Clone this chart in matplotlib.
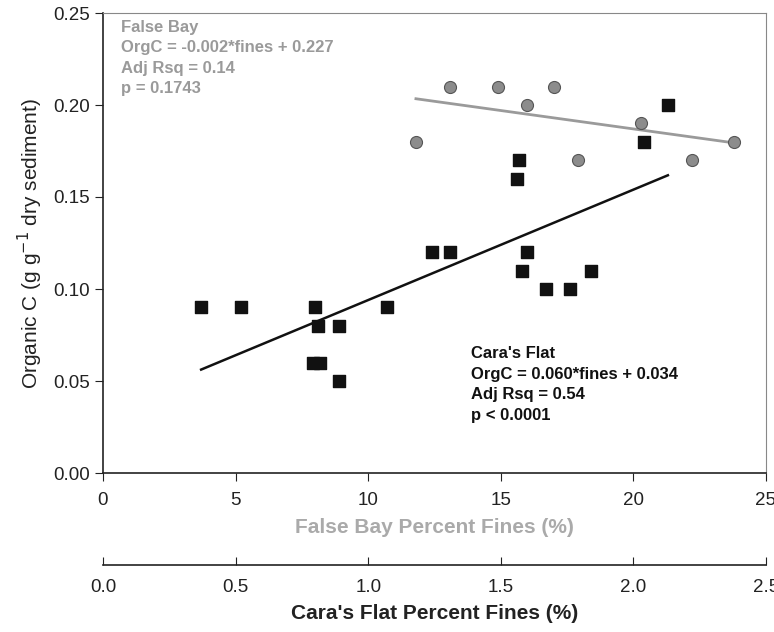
import numpy as np
import matplotlib
matplotlib.use("Agg")
import matplotlib.pyplot as plt
from matplotlib import font_manager

# pick a narrow sans if we have one
names = set(f.name for f in font_manager.fontManager.ttflist)
fam = "Liberation Sans Narrow" if "Liberation Sans Narrow" in names else "Liberation Sans"
plt.rcParams['font.family'] = [fam, 'DejaVu Sans']

# False Bay (circles), x = percent fines
fb_x = [11.8, 13.1, 14.9, 16.0, 17.0, 17.9, 20.3, 22.2, 23.8]
fb_y = [0.18, 0.21, 0.21, 0.20, 0.21, 0.17, 0.19, 0.17, 0.18]

# Cara's Flat (squares), x = percent fines (0-2.5 scale)
cf_x = [0.37, 0.52, 0.79, 0.82, 0.80, 0.81, 0.89, 0.89, 1.07, 1.24, 1.31,
        1.56, 1.57, 1.58, 1.60, 1.67, 1.76, 1.84, 2.04, 2.13]
cf_y = [0.09, 0.09, 0.06, 0.06, 0.09, 0.08, 0.08, 0.05, 0.09, 0.12, 0.12,
        0.16, 0.17, 0.11, 0.12, 0.10, 0.10, 0.11, 0.18, 0.20]

fb_fit = (-0.002, 0.227)
cf_fit = (0.060, 0.034)

gray = "#9a9a9a"

fig = plt.figure(figsize=(7.74, 6.32), dpi=100)
ax = fig.add_axes([103/774, 1 - 473/632, 663/774, 460/632])

ax.scatter(fb_x, fb_y, s=75, marker='o', facecolor="#8c8c8c", edgecolor="#555555",
           linewidth=0.8, zorder=3)
ax.scatter(np.array(cf_x) * 10, cf_y, s=70, marker='s', color="#111111", zorder=3)

xs = np.array([min(fb_x), max(fb_x)])
ax.plot(xs, fb_fit[0] * xs + fb_fit[1], color=gray, lw=2, zorder=2)
xc = np.array([min(cf_x), max(cf_x)])
ax.plot(xc * 10, cf_fit[0] * xc + cf_fit[1], color="#111111", lw=1.8, zorder=2)

ax.set_xlim(0, 25)
ax.set_ylim(0, 0.25)
ax.set_xticks(np.arange(0, 26, 5))
ax.set_yticks(np.arange(0, 0.26, 0.05))
ax.yaxis.set_major_formatter(matplotlib.ticker.FormatStrFormatter('%.2f'))
ax.tick_params(direction='out', length=6, labelsize=13.5, colors="#222222")
ax.tick_params(axis='x', pad=8)
for s in ['top', 'right']:
    ax.spines[s].set_color("#888888")
for s in ['left', 'bottom']:
    ax.spines[s].set_color("#222222")
    ax.spines[s].set_linewidth(1.2)

ax.set_ylabel("Organic C (g g$^{-1}$ dry sediment)", fontsize=15, color="#222222",
              labelpad=6)
ax.set_xlabel("False Bay Percent Fines (%)", fontsize=15, fontweight='bold',
              color="#aaaaaa", labelpad=6)

ax.text(0.027, 0.985, "False Bay\nOrgC = -0.002*fines + 0.227\nAdj Rsq = 0.14\np = 0.1743",
        transform=ax.transAxes, va='top', ha='left', fontsize=12, fontweight='bold',
        color=gray, linespacing=1.45)
ax.text(0.555, 0.275, "Cara's Flat\nOrgC = 0.060*fines + 0.034\nAdj Rsq = 0.54\np < 0.0001",
        transform=ax.transAxes, va='top', ha='left', fontsize=12, fontweight='bold',
        color="#111111", linespacing=1.45)

sec = ax.secondary_xaxis(-0.2, functions=(lambda v: v / 10, lambda v: v * 10))
sec.set_xticks(np.arange(0, 2.6, 0.5))
sec.xaxis.set_major_formatter(matplotlib.ticker.FormatStrFormatter('%.1f'))
sec.tick_params(direction='in', length=6, labelsize=13.5, colors="#222222", pad=10)
sec.spines['bottom'].set_color("#222222")
sec.spines['bottom'].set_linewidth(1.2)
sec.set_xlabel("Cara's Flat Percent Fines (%)", fontsize=15, fontweight='bold',
               color="#222222", labelpad=6)

fig.savefig("out.png", dpi=100)
